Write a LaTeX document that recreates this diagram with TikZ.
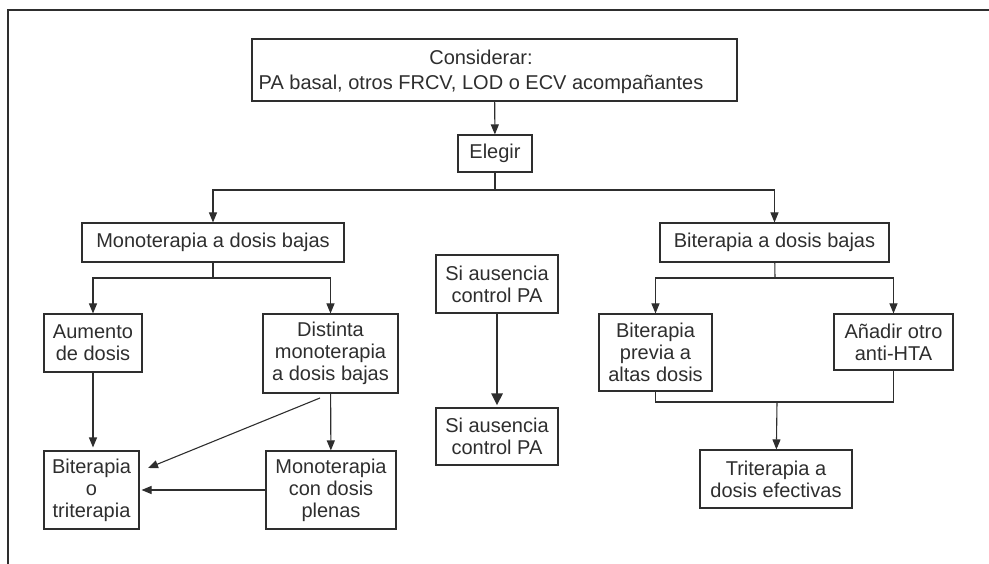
\documentclass[tikz,border=0pt]{standalone}
\usepackage{fontspec}
\setmainfont{Liberation Sans}
\usetikzlibrary{arrows.meta}
\definecolor{ink}{HTML}{2E2E2E}
\begin{document}
\begin{tikzpicture}[x=1pt,y=-1pt,
  box/.style={draw=ink, line width=1.1pt, align=center, inner sep=0pt, text=ink,
    font=\fontsize{20}{22}\selectfont},
  link/.style={draw=ink, line width=1.1pt},
  arr/.style={link, -{Triangle[length=10pt,width=8pt]}},
  bigarr/.style={draw=ink, line width=2.6pt, -{Triangle[length=12pt,width=11pt]}}]
\useasboundingbox (0,0) rectangle (989,564);
\draw[ink, line width=2pt] (8,564) -- (8,10) -- (989,10);
% top
\node[box, minimum width=485pt, minimum height=62pt] (cons) at (494.5,70) {};
\node[box, draw=none, font=\fontsize{20}{25}\selectfont] (consTxt) at (481,72) {Considerar:\\PA basal, otros FRCV, LOD o ECV acompañantes};
\node[box, minimum width=74pt, minimum height=37pt] (elegir) at (495,153.5) {Elegir};
% left branch
\node[box, minimum width=262pt, minimum height=39pt] (mono) at (213,242.5) {Monoterapia a dosis bajas};
\node[box, minimum width=98pt, minimum height=58pt] (aum) at (93,343) {Aumento\\de dosis};
\node[box, minimum width=135pt, minimum height=79pt] (dist) at (330.5,353.5) {Distinta\\monoterapia\\a dosis bajas};
\node[box, minimum width=95pt, minimum height=78pt] (bitri) at (91.5,490) {Biterapia\\o\\triterapia};
\node[box, minimum width=130pt, minimum height=78pt] (plenas) at (331,490) {Monoterapia\\con dosis\\plenas};
% middle
\node[box, minimum width=122pt, minimum height=58pt] (si1) at (497,284) {Si ausencia\\control PA};
\node[box, minimum width=122pt, minimum height=57pt] (si2) at (497,436.5) {Si ausencia\\control PA};
% right branch
\node[box, minimum width=229pt, minimum height=39pt] (bi) at (774.5,242.5) {Biterapia a dosis bajas};
\node[box, minimum width=113pt, minimum height=77pt] (previa) at (655.5,352.5) {Biterapia\\previa a\\altas dosis};
\node[box, minimum width=119pt, minimum height=56pt] (anadir) at (893.5,342) {Añadir otro\\anti-HTA};
\node[box, minimum width=152pt, minimum height=58pt] (tri) at (776,479) {Triterapia a\\dosis efectivas};
% connectors
\coordinate (fork) at (495,190);
\coordinate (forkL) at (213,278);
\coordinate (forkR) at (775,278);
\coordinate (join) at (777,402);
\coordinate (d1) at (320,398);
\coordinate (d2) at (148,468);
\draw[arr] (cons) -- (elegir);
\draw[link] (elegir) -- (fork);
\draw[arr] (fork) -| (mono);
\draw[arr] (fork) -| (bi);
\draw[link] (mono) -- (forkL);
\draw[arr] (forkL) -| (aum);
\draw[arr] (forkL) -| (dist);
\draw[arr, shorten >=3pt] (aum) -- (aum.south |- bitri.north);
\draw[arr] (dist) -- (plenas);
\draw[arr] (d1) -- (d2);
\draw[arr, shorten >=2pt] (plenas.west) -- (bitri.east);
\draw[bigarr, shorten >=2pt] (si1) -- (si2);
\draw[link] (bi) -- (forkR);
\draw[arr] (forkR) -| (previa);
\draw[arr] (forkR) -| (anadir);
\draw[link] (previa) |- (join) -| (anadir);
\draw[arr] (join) -- (tri);
\end{tikzpicture}
\end{document}
